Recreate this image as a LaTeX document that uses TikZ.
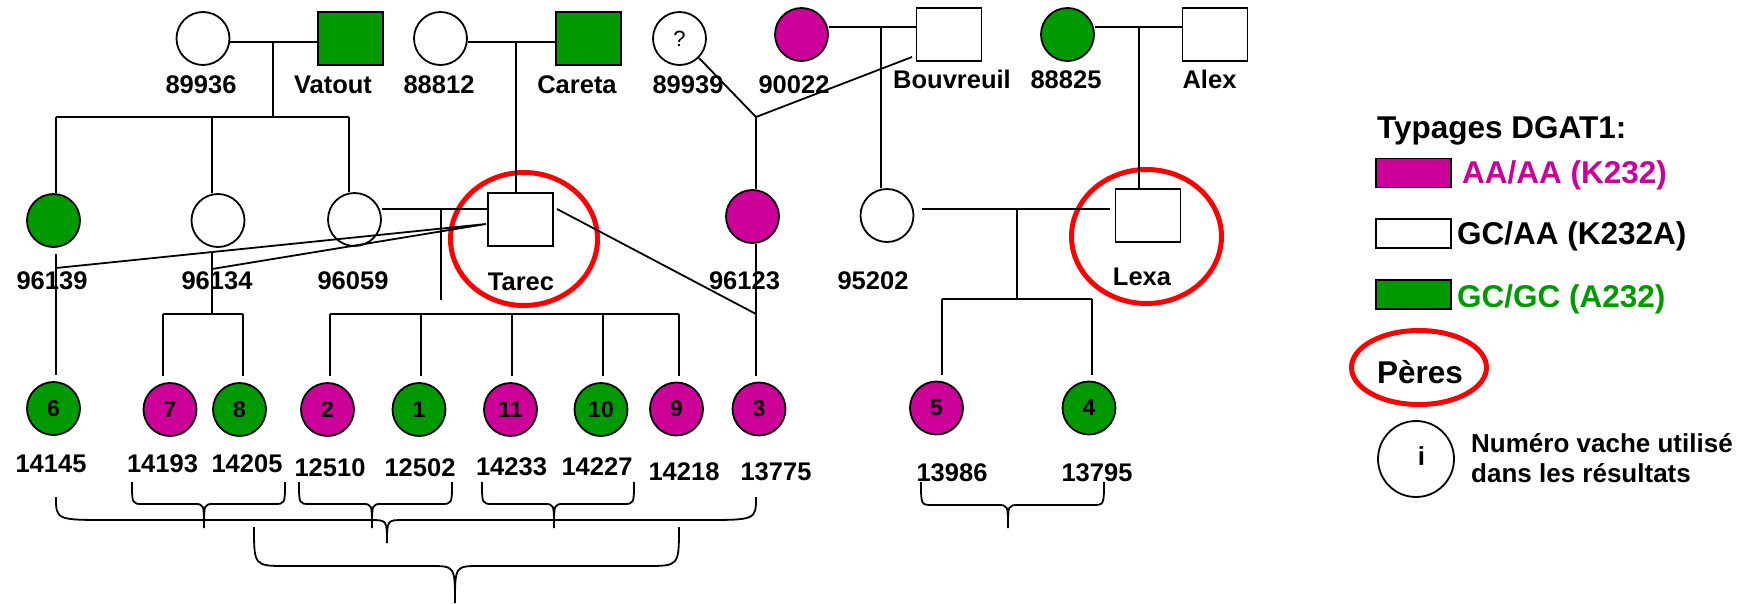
\documentclass[tikz,border=0pt]{standalone}
\usepackage{fontspec}
\setmainfont{Liberation Sans}
\usetikzlibrary{shapes.geometric}
\definecolor{mag}{RGB}{204,0,153}
\definecolor{grn}{RGB}{0,153,0}
\definecolor{redc}{RGB}{255,0,0}
% #1 xL, #2 xR, #3 y ends, #4 y middle, #5 x tip, #6 y tip, #7 corner span, #8 tip span
\newcommand{\pedbrace}[8]{\draw[ln] (#1,#3) .. controls (#1,#4) .. (#1+#7,#4) -- (#5-#8,#4) .. controls (#5,#4) .. (#5,#6) .. controls (#5,#4) .. (#5+#8,#4) -- (#2-#7,#4) .. controls (#2,#4) .. (#2,#3);}
\begin{document}
\begin{tikzpicture}[x=1pt,y=-1pt,
 ln/.style={line width=1.8pt},
 fem/.style={circle,draw,line width=1.8pt,minimum size=53pt,inner sep=0pt,fill=white},
 mal/.style={rectangle,draw,line width=1.8pt,minimum width=65pt,minimum height=53pt,inner sep=0pt,fill=white},
 kid/.style={fem,font=\fontsize{23}{23}\selectfont\bfseries},
 lab/.style={anchor=base,inner sep=0pt,font=\fontsize{25.5}{28}\selectfont\bfseries},
 sire/.style={ellipse,draw=redc,line width=5pt,inner sep=0pt},
 leg/.style={anchor=base west,inner sep=0pt,font=\fontsize{31.5}{34}\selectfont\bfseries},
 legbox/.style={rectangle,draw,line width=1.8pt,minimum width=75pt,minimum height=29pt,inner sep=0pt},
 note/.style={anchor=base west,inner sep=0pt,font=\fontsize{26}{30}\selectfont\bfseries}]
\useasboundingbox (0,0) rectangle (1749,603);

% sire markers
\node[sire,minimum width=147pt,minimum height=133pt] (rTarec) at (524,239) {};
\node[sire,minimum width=150pt,minimum height=134pt] (rLexa) at (1146.5,236.5) {};

% top generation
\node[fem] (c89936) at (203,38.5) {};
\node[mal,fill=grn] (sVatout) at (350.5,38.5) {};
\node[fem] (c88812) at (440.5,38.5) {};
\node[mal,fill=grn] (sCareta) at (588.5,38.5) {};
\node[fem,font=\fontsize{22}{22}\selectfont] (c89939) at (679.5,38.5) {?};
\node[fem,fill=mag] (c90022) at (801.5,34.5) {};
\node[mal] (sBouv) at (949,34.5) {};
\node[fem,fill=grn] (c88825) at (1067.5,34.5) {};
\node[mal] (sAlex) at (1215,34.5) {};

\node[lab] (l89936) at (201,93) {89936};
\node[lab] (lVatout) at (333,93) {Vatout};
\node[lab] (l88812) at (439,93) {88812};
\node[lab] (lCareta) at (577,93) {Careta};
\node[lab] (l89939) at (688,93) {89939};
\node[lab] (l90022) at (794,93) {90022};
\node[lab] (lBouv) at (952,88) {Bouvreuil};
\node[lab] (l88825) at (1066,88) {88825};
\node[lab] (lAlex) at (1209.5,88) {Alex};

% middle generation
\node[fem,fill=grn] (c96139) at (53.5,220.5) {};
\node[fem] (c96134) at (218,220.5) {};
\node[fem] (c96059) at (354.5,219.5) {};
\node[mal] (sTarec) at (520.5,219.5) {};
\node[fem,fill=mag] (c96123) at (752.5,216.5) {};
\node[fem] (c95202) at (887,215.5) {};
\node[mal] (sLexa) at (1148,215.5) {};

\node[lab] (l96139) at (52,289) {96139};
\node[lab] (l96134) at (217,289) {96134};
\node[lab] (l96059) at (353,289) {96059};
\node[lab] (lTarec) at (521,290) {Tarec};
\node[lab] (l96123) at (744.5,289) {96123};
\node[lab] (l95202) at (873,289) {95202};
\node[lab] (lLexa) at (1142,285) {Lexa};

% bottom generation
\node[kid,fill=grn] (c6) at (53.5,408.5) {6};
\node[kid,fill=mag] (c7) at (170,409.5) {7};
\node[kid,fill=grn] (c8) at (239.5,409.5) {8};
\node[kid,fill=mag] (c2) at (327.5,409.5) {2};
\node[kid,fill=grn] (c1) at (419,409.5) {1};
\node[kid,fill=mag] (c11) at (510.5,409.5) {11};
\node[kid,fill=grn] (c10) at (601,409.5) {10};
\node[kid,fill=mag] (c9) at (676.5,409) {9};
\node[kid,fill=mag] (c3) at (759,409) {3};
\node[kid,fill=mag] (c5) at (936.5,408) {5};
\node[kid,fill=grn] (c4) at (1089,408) {4};

\node[lab] (l14145) at (51,472) {14145};
\node[lab] (l14193) at (162.5,472) {14193};
\node[lab] (l14205) at (247,472) {14205};
\node[lab] (l12510) at (330,476) {12510};
\node[lab] (l12502) at (420,476) {12502};
\node[lab] (l14233) at (511.5,475) {14233};
\node[lab] (l14227) at (597,475) {14227};
\node[lab] (l14218) at (684,480) {14218};
\node[lab] (l13775) at (776,480) {13775};
\node[lab] (l13986) at (952,481) {13986};
\node[lab] (l13795) at (1097,481) {13795};

% junction coordinates
\coordinate (m1) at (273,42);
\coordinate (s1) at (273,117);
\coordinate (s1a) at (56,117);
\coordinate (s1b) at (212,117);
\coordinate (s1c) at (349,117);
\coordinate (m2) at (516,42);
\coordinate (m3) at (881,27);
\coordinate (m4) at (1139,27);
\coordinate (j1) at (756,117);
\coordinate (bv) at (912,57);
\coordinate (j3) at (756,314);
\coordinate (te) at (557,209);
\coordinate (m5) at (441,209);
\coordinate (e5) at (441,300);
\coordinate (tl) at (486,224);
\coordinate (t1) at (56,268);
\coordinate (t2) at (212,269);
\coordinate (d6) at (56,254);
\coordinate (d78) at (212,253);
\coordinate (s2) at (212,314);
\coordinate (s2a) at (163,314);
\coordinate (s2b) at (243,314);
\coordinate (s3a) at (330,314);
\coordinate (s3b) at (421,314);
\coordinate (s3c) at (512,314);
\coordinate (s3d) at (603,314);
\coordinate (s3e) at (679,314);
\coordinate (m6) at (1017,209);
\coordinate (s4) at (1017,299);
\coordinate (s4a) at (942,299);
\coordinate (s4b) at (1092,299);

% connectors
\draw[ln] (c89936.east |- m1) -- (sVatout.west |- m1);
\draw[ln] (m1) -- (s1);
\draw[ln] (s1a) -- (s1c);
\draw[ln] (s1a) -- (s1a |- c96139.north);
\draw[ln] (s1b) -- (s1b |- c96134.north);
\draw[ln] (s1c) -- (s1c |- c96059.north);

\draw[ln] (c88812.east |- m2) -- (sCareta.west |- m2);
\draw[ln] (m2) -- (m2 |- sTarec.north);

\draw[ln] (c89939.-45) -- (j1);
\draw[ln] (bv) -- (j1);
\draw[ln] (j1) -- (j1 |- c96123.north);
\draw[ln,shorten >=6pt] (j1 |- c96123.south) -- (j1 |- c3.north);
\draw[ln] (te) -- (j3);

\draw[ln] (c90022.east |- m3) -- (sBouv.west |- m3);
\draw[ln] (m3) -- (m3 |- c95202.north);
\draw[ln] (c88825.east |- m4) -- (sAlex.west |- m4);
\draw[ln] (m4) -- (m4 |- sLexa.north);

\draw[ln] (c96059.east |- m5) -- (sTarec.west |- m5);
\draw[ln] (m5) -- (e5);
\draw[ln] (t1) -- (tl) -- (t2);

\draw[ln,shorten >=6pt] (d6) -- (d6 |- c6.north);
\draw[ln] (d78) -- (s2);
\draw[ln] (s2a) -- (s2b);
\draw[ln,shorten >=6pt] (s2a) -- (s2a |- c7.north);
\draw[ln,shorten >=6pt] (s2b) -- (s2b |- c8.north);

\draw[ln] (s3a) -- (s3e);
\draw[ln,shorten >=6pt] (s3a) -- (s3a |- c2.north);
\draw[ln,shorten >=6pt] (s3b) -- (s3b |- c1.north);
\draw[ln,shorten >=6pt] (s3c) -- (s3c |- c11.north);
\draw[ln,shorten >=6pt] (s3d) -- (s3d |- c10.north);
\draw[ln,shorten >=6pt] (s3e) -- (s3e |- c9.north);

\draw[ln,shorten <=8pt,shorten >=5pt] (c95202.east |- m6) -- (sLexa.west |- m6);
\draw[ln] (m6) -- (s4);
\draw[ln] (s4a) -- (s4b);
\draw[ln,shorten >=6pt] (s4a) -- (s4a |- c5.north);
\draw[ln,shorten >=6pt] (s4b) -- (s4b |- c4.north);

% braces
\pedbrace{132}{285}{482}{504}{204}{528}{11}{10}
\pedbrace{299}{452}{482}{504}{372}{528}{11}{10}
\pedbrace{482}{634}{482}{504}{554}{528}{11}{10}
\pedbrace{921}{1104}{482}{505}{1008}{528}{12}{11}
\pedbrace{56}{756}{497}{520}{387}{543}{54}{17}
\pedbrace{254}{679}{527}{566}{455}{603}{33}{25}

% legend
\node[leg] (tTyp) at (1377,138) {Typages DGAT1:};
\node[legbox,fill=mag] (bAA) at (1413.5,173) {};
\node[leg,text=mag] (tAA) at (1462,183) {AA/AA (K232)};
\node[legbox,fill=white] (bGA) at (1413.5,233.5) {};
\node[leg] (tGA) at (1457,244) {GC/AA (K232A)};
\node[legbox,fill=grn] (bGG) at (1413.5,294.5) {};
\node[leg,text=grn] (tGG) at (1457,307) {GC/GC (A232)};
\node[sire,minimum width=135pt,minimum height=74pt] (rPeres) at (1419,367.5) {};
\node[leg,anchor=base] (tPeres) at (1420,383) {Pères};
\node[fem,minimum size=76pt] (cI) at (1416,459) {};
\node[lab,font=\fontsize{26}{26}\selectfont\bfseries] (tI) at (1421.5,465) {i};
\node[note] (tN1) at (1471,452) {Numéro vache utilisé};
\node[note] (tN2) at (1471,482) {dans les résultats};
\end{tikzpicture}
\end{document}
